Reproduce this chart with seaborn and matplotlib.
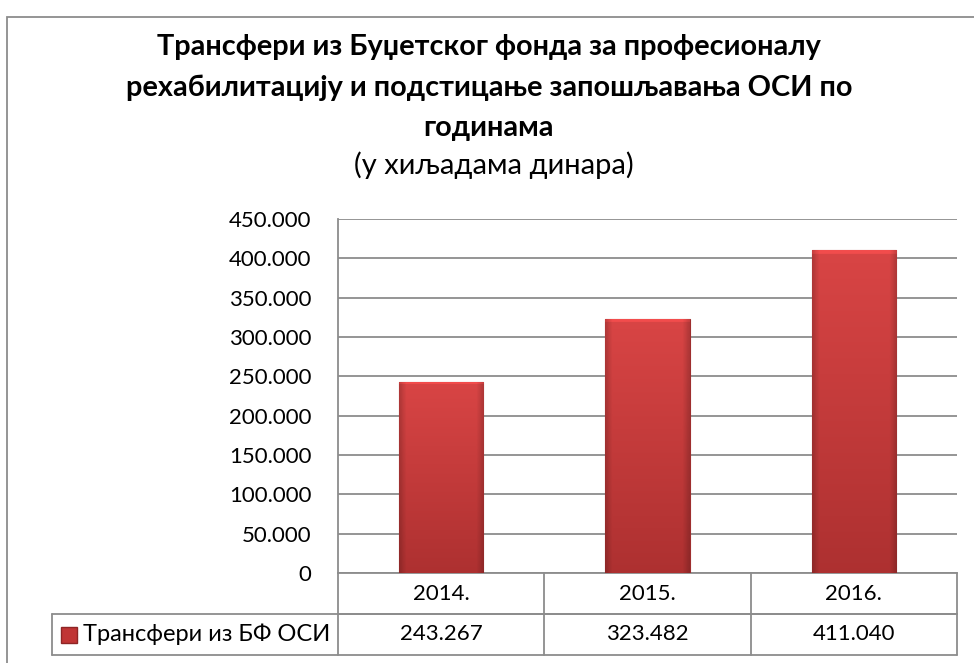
import numpy as np
import matplotlib
matplotlib.use("Agg")
import matplotlib.pyplot as plt
from matplotlib.patches import Rectangle
from matplotlib.transforms import blended_transform_factory
import seaborn as sns

# data
years = ["2014.", "2015.", "2016."]
transfers = [243267, 323482, 411040]
series_name = "Трансфери из БФ ОСИ"
title_lines = [
    "Трансфери из Буџетског фонда за професионалу",
    "рехабилитацију и подстицање запошљавања ОСИ по",
    "годинама",
]
subtitle = "(у хиљадама динара)"
y_ticks = [0, 50000, 100000, 150000, 200000, 250000, 300000, 350000, 400000, 450000]


def fmt(v):
    return f"{int(v):,}".replace(",", ".")


sns.set_style("white")
plt.rcParams["font.family"] = ["Lato", "DejaVu Sans"]
plt.rcParams["text.color"] = "black"
plt.rcParams["ytick.color"] = "black"

grid_col = "#8C8C8C"
fig = plt.figure(figsize=(9.74, 6.63), dpi=100)
ax = fig.add_axes([338 / 974, 90 / 663, 619 / 974, 354 / 663])

sns.barplot(x=years, y=transfers, color="#D04040", width=0.41, ax=ax,
            edgecolor="#9E2E2E", linewidth=0.8, zorder=3)

# shaded fill for the bars (rough look of the Excel bevel)
for p in ax.patches:
    x0, w, h = p.get_x(), p.get_width(), p.get_height()
    n = 200
    t = np.linspace(0, 1, n)[:, None]
    top = np.array([0.85, 0.27, 0.27])
    bot = np.array([0.68, 0.19, 0.19])
    img = top + (bot - top) * t[..., None]
    img = np.repeat(img, 60, axis=1)
    s = np.linspace(0, 1, 60)
    side = 1 - 0.18 * np.clip(1 - np.minimum(s, 1 - s) / 0.08, 0, 1)
    img = img * side[None, :, None]
    img[:3] = img[:3] * 1.12
    im = ax.imshow(np.clip(img, 0, 1), extent=[x0, x0 + w, 0, h], aspect="auto",
                   zorder=3.5, origin="upper")
    im.set_clip_path(p)

ax.set_xlim(-0.5, 2.5)
ax.set_ylim(0, 450000)
ax.set_yticks(y_ticks)
ax.set_yticklabels([fmt(v) for v in y_ticks])
ax.yaxis.grid(True, color=grid_col, linewidth=1.3)
ax.set_axisbelow(True)
ax.tick_params(axis="y", length=0, pad=19, labelsize=16)
ax.tick_params(axis="x", length=0, labelbottom=False)
ax.set_xlabel("")
ax.set_ylabel("")
for side_name in ["top", "right"]:
    ax.spines[side_name].set_visible(False)
for side_name in ["left", "bottom"]:
    ax.spines[side_name].set_color(grid_col)
    ax.spines[side_name].set_linewidth(1.3)

# data table under the plot
tr = blended_transform_factory(ax.transData, ax.transAxes)
row_h = 41 / 354
label_left = -0.5 - (338 - 52) / (619 / 3)
line_kw = dict(color=grid_col, linewidth=1.3, transform=tr, clip_on=False)
ax.plot([-0.5, 2.5], [-row_h, -row_h], **line_kw)
ax.plot([label_left, 2.5], [-row_h, -row_h], **line_kw)
ax.plot([label_left, 2.5], [-2 * row_h, -2 * row_h], **line_kw)
ax.plot([label_left, label_left], [-row_h, -2 * row_h], **line_kw)
for b in [-0.5, 0.5, 1.5, 2.5]:
    ax.plot([b, b], [0, -2 * row_h], **line_kw)
for i, (yr, v) in enumerate(zip(years, transfers)):
    ax.text(i, -0.5 * row_h, yr, transform=tr, ha="center", va="center", fontsize=16)
    ax.text(i, -1.5 * row_h, fmt(v), transform=tr, ha="center", va="center", fontsize=16)
ax.plot([label_left + 0.08], [-1.5 * row_h], marker="s", markersize=11,
        color="#C03535", markeredgecolor="#8E2525", transform=tr, clip_on=False)
ax.text(label_left + 0.15, -1.5 * row_h, series_name, transform=tr,
        ha="left", va="center", fontsize=17)

# titles
for k, line in enumerate(title_lines):
    fig.text(0.502, 1 - (47 + 40.5 * k) / 663, line, ha="center", va="center",
             fontsize=20.8, fontweight="bold")
fig.text(0.507, 1 - 165 / 663, subtitle, ha="center", va="center", fontsize=21)

# chart frame
fig.patches.append(Rectangle((7 / 974, -0.05), 1.0, 1 - 17 / 663 + 0.05,
                             transform=fig.transFigure, fill=False,
                             edgecolor="#8C8C8C", linewidth=1.3))

fig.savefig("out.png", dpi=100)
